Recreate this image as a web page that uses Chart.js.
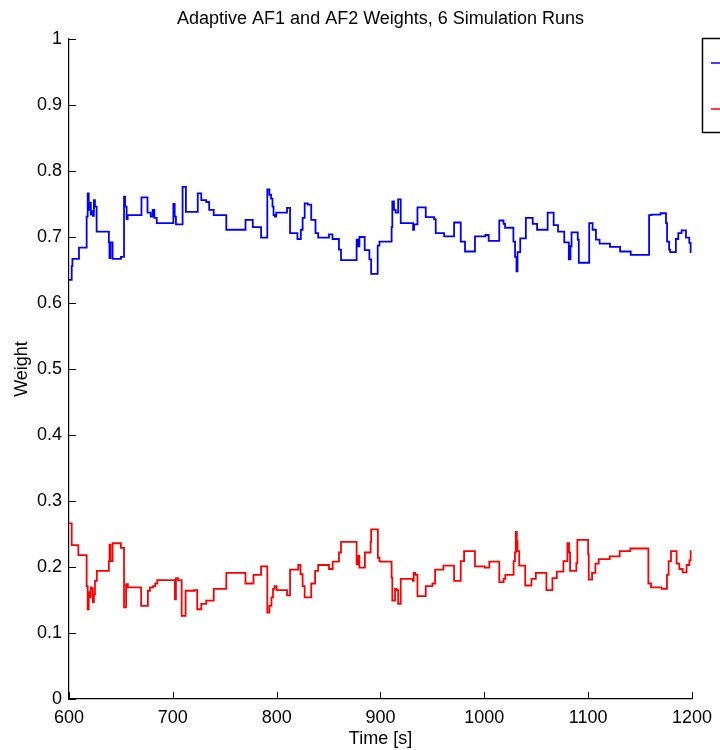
<!DOCTYPE html>
<html>
<head>
<meta charset="utf-8">
<script src="https://cdn.jsdelivr.net/npm/chart.js@4.4.0/dist/chart.umd.min.js"></script>
<style>
  html, body { margin: 0; padding: 0; background: #fff; }
  #wrap { width: 720px; height: 750px; }
</style>
</head>
<body>
<div id="wrap"><canvas id="weightChart" width="720" height="750"></canvas></div>
<script>
// AF1 weight: time at which the value changes, new value
const af1Times = [600, 602.6, 603.3, 609.6, 617, 618, 619, 620, 621, 622, 623, 624, 625, 626.6,
  638.4, 639, 640, 642, 650, 653, 654, 655.5, 656.5, 669.8, 675.6, 678.7, 680.6, 682.2, 684.5,
  700.5, 701.8, 703, 709.4, 712.6, 724, 727.4, 732.2, 735, 739.4, 751.5, 770, 777, 785,
  791, 793, 794.6, 796, 797, 798.3, 799.6, 810, 812.9, 820, 823.3, 825, 827, 830, 833.3, 837.4,
  840, 850.4, 853.8, 860, 862, 877, 878.5, 879.7, 884.8, 889.3, 891, 897.3, 899, 910.7, 911.4,
  913, 914.6, 917, 919.5, 931.4, 932.4, 935.6, 943.6, 951.6, 953.2, 961.3, 970.9, 977.3, 981.4,
  991, 1001, 1004.2, 1014.4, 1018.5, 1020, 1028, 1029.6, 1031, 1032, 1034.6, 1040, 1046.6,
  1050.8, 1061, 1066.8, 1071, 1077, 1081.4, 1083, 1084, 1090, 1091, 1101, 1104.3, 1107.5, 1111,
  1121, 1130.8, 1141, 1158.7, 1161, 1169.7, 1175, 1176, 1178, 1179, 1184.5, 1186.8, 1190,
  1194.2, 1197.4, 1198.7, 1199.5];
const af1Weights = [0.635, 0.656, 0.667, 0.684, 0.731, 0.766, 0.741, 0.752, 0.734, 0.739, 0.732, 0.756, 0.746, 0.708,
  0.692, 0.668, 0.692, 0.667, 0.670, 0.761, 0.746, 0.727, 0.733, 0.760, 0.737, 0.731, 0.741, 0.729, 0.721,
  0.750, 0.731, 0.719, 0.776, 0.738, 0.766, 0.756, 0.753, 0.741, 0.733, 0.711, 0.726, 0.715, 0.699,
  0.772, 0.764, 0.758, 0.746, 0.733, 0.731, 0.737, 0.744, 0.706, 0.697, 0.711, 0.729, 0.751, 0.749, 0.726, 0.706,
  0.699, 0.704, 0.697, 0.681, 0.665, 0.696, 0.686, 0.700, 0.680, 0.666, 0.644, 0.687, 0.693, 0.715, 0.754,
  0.741, 0.737, 0.757, 0.721, 0.711, 0.719, 0.745, 0.730, 0.727, 0.706, 0.701, 0.722, 0.693, 0.678,
  0.701, 0.703, 0.694, 0.725, 0.720, 0.714, 0.693, 0.670, 0.648, 0.677, 0.698, 0.729, 0.720,
  0.711, 0.737, 0.718, 0.708, 0.692, 0.666, 0.686, 0.707, 0.696, 0.661, 0.721, 0.711, 0.696, 0.690,
  0.685, 0.678, 0.673, 0.733, 0.734, 0.736, 0.721, 0.693, 0.681, 0.677, 0.697, 0.706, 0.710,
  0.699, 0.691, 0.677, 0.677];

// AF2 weight
const af2Times = [600, 602.6, 609, 617, 618, 619, 620, 621, 622, 623, 624, 625, 626.8,
  638.4, 639, 640, 642, 650, 653, 655, 656.7, 669.5, 676, 678, 681, 683, 685,
  702, 703, 705, 708.5, 712.3, 720.5, 723.5, 727.4, 732.2, 739.4, 751.5, 770, 777.7, 785,
  791, 793, 795, 796.5, 798, 800, 810, 812.9, 820.8, 823, 825, 827, 833.3, 837,
  840, 850.4, 854, 860, 862, 877, 878.5, 879.7, 885, 890.5, 891, 897.5, 899, 900,
  910.7, 911.4, 914, 915.5, 917, 919.5, 931, 932, 933.5, 935.6, 943.6, 950, 952.6, 960.6,
  970.9, 977.3, 980.5, 991, 1000.3, 1004.8, 1014.4, 1018.6, 1020.2, 1028.2, 1029.5, 1030.3,
  1031.3, 1032, 1033.6, 1039.4, 1045.4, 1049.6, 1059.8, 1065.6, 1069.8, 1076.2, 1080, 1081.6,
  1082.6, 1088.6, 1089.6, 1100, 1100.6, 1103.8, 1107, 1110.2, 1120.8, 1130.4, 1140.6, 1158,
  1160.6, 1170.8, 1175.9, 1177.5, 1179.8, 1185.2, 1187.8, 1191, 1194.8, 1197.5, 1198.7, 1199.5];
const af2Weights = [0.266, 0.233, 0.218, 0.171, 0.136, 0.162, 0.154, 0.169, 0.167, 0.147, 0.158, 0.179, 0.194,
  0.209, 0.234, 0.209, 0.236, 0.229, 0.139, 0.174, 0.169, 0.141, 0.164, 0.169, 0.171, 0.175, 0.180,
  0.151, 0.183, 0.180, 0.126, 0.164, 0.165, 0.136, 0.144, 0.149, 0.167, 0.191, 0.175, 0.188, 0.201,
  0.131, 0.141, 0.154, 0.167, 0.171, 0.165, 0.157, 0.196, 0.203, 0.189, 0.171, 0.154, 0.175, 0.194,
  0.203, 0.197, 0.208, 0.222, 0.238, 0.204, 0.217, 0.199, 0.222, 0.238, 0.257, 0.214, 0.209, 0.208,
  0.184, 0.149, 0.167, 0.165, 0.144, 0.182, 0.179, 0.191, 0.188, 0.156, 0.171, 0.175, 0.196, 0.202,
  0.179, 0.209, 0.224, 0.201, 0.199, 0.208, 0.177, 0.182, 0.188, 0.209, 0.222, 0.253,
  0.239, 0.224, 0.202, 0.172, 0.182, 0.191, 0.165, 0.183, 0.193, 0.209, 0.236, 0.222,
  0.194, 0.206, 0.241, 0.219, 0.181, 0.191, 0.205, 0.212, 0.216, 0.224, 0.228, 0.175,
  0.169, 0.167, 0.188, 0.209, 0.224, 0.205, 0.197, 0.192, 0.203, 0.210, 0.224, 0.224];

const xTicks = [600, 700, 800, 900, 1000, 1100, 1200];
const yTicks = [0, 0.1, 0.2, 0.3, 0.4, 0.5, 0.6, 0.7, 0.8, 0.9, 1];

const toPoints = (times, values) => times.map((t, i) => ({ x: t, y: values[i] }));

// ticks pointing into the plot, like the original figure
const inwardTicks = {
  id: 'inwardTicks',
  afterDatasetsDraw(chart) {
    const { ctx, chartArea, scales } = chart;
    ctx.save();
    ctx.strokeStyle = '#000';
    ctx.lineWidth = 1;
    ctx.beginPath();
    xTicks.forEach(v => {
      const x = Math.round(scales.x.getPixelForValue(v)) + 0.5;
      ctx.moveTo(x, chartArea.bottom);
      ctx.lineTo(x, chartArea.bottom - 7);
    });
    yTicks.forEach(v => {
      const y = Math.round(scales.y.getPixelForValue(v)) + 0.5;
      ctx.moveTo(chartArea.left, y);
      ctx.lineTo(chartArea.left + 7, y);
    });
    ctx.stroke();
    ctx.restore();
  }
};

// legend box, mostly cut off by the right edge
const sideLegend = {
  id: 'sideLegend',
  afterDraw(chart) {
    const { ctx, chartArea } = chart;
    const left = chartArea.right + 10;
    const top = chartArea.top - 1;
    ctx.save();
    ctx.strokeStyle = '#000';
    ctx.lineWidth = 1.5;
    ctx.strokeRect(left + 0.5, top + 0.5, 60, 94);
    chart.data.datasets.forEach((ds, i) => {
      const y = top + 25 + i * 46;
      ctx.strokeStyle = ds.borderColor;
      ctx.lineWidth = 1.5;
      ctx.beginPath();
      ctx.moveTo(left + 9, y);
      ctx.lineTo(left + 30, y);
      ctx.stroke();
    });
    ctx.restore();
  }
};

const fontFamily = '"Liberation Sans", Arial, Helvetica, sans-serif';

new Chart(document.getElementById('weightChart'), {
  type: 'line',
  data: {
    datasets: [
      {
        label: 'AF1',
        data: toPoints(af1Times, af1Weights),
        borderColor: '#0000ff',
        borderWidth: 1.8,
        stepped: true,
        pointRadius: 0,
        fill: false
      },
      {
        label: 'AF2',
        data: toPoints(af2Times, af2Weights),
        borderColor: '#ff0000',
        borderWidth: 1.8,
        stepped: true,
        pointRadius: 0,
        fill: false
      }
    ]
  },
  options: {
    responsive: false,
    animation: false,
    layout: { padding: { left: 0, right: 23, top: 0, bottom: 0 } },
    plugins: {
      legend: { display: false },
      tooltip: { enabled: false },
      title: {
        display: true,
        fullSize: false,
        text: 'Adaptive AF1 and AF2 Weights, 6 Simulation Runs',
        color: '#000',
        font: { family: fontFamily, size: 18, weight: 'normal' },
        padding: { top: 8, bottom: 9.4 }
      }
    },
    scales: {
      x: {
        type: 'linear',
        min: 600,
        max: 1200,
        afterFit(scale) { scale.height = 51; },
        afterBuildTicks(scale) { scale.ticks = xTicks.map(v => ({ value: v })); },
        grid: { display: false, drawTicks: false },
        border: { display: true, color: '#000', width: 1.2 },
        ticks: {
          color: '#000',
          padding: 8,
          maxRotation: 0,
          font: { family: fontFamily, size: 18 },
          callback: v => String(v)
        },
        title: {
          display: true,
          text: 'Time [s]',
          color: '#000',
          font: { family: fontFamily, size: 18 },
          padding: { top: 0, bottom: 0 }
        }
      },
      y: {
        min: 0,
        max: 1,
        afterFit(scale) { scale.width = 69; },
        afterBuildTicks(scale) { scale.ticks = yTicks.map(v => ({ value: v })); },
        grid: { display: false, drawTicks: false },
        border: { display: true, color: '#000', width: 1.2 },
        ticks: {
          color: '#000',
          padding: 7,
          font: { family: fontFamily, size: 18 },
          callback: v => String(Math.round(v * 10) / 10)
        },
        title: {
          display: true,
          text: 'Weight',
          color: '#000',
          font: { family: fontFamily, size: 18 },
          padding: { top: 11, bottom: 0 }
        }
      }
    }
  },
  plugins: [inwardTicks, sideLegend]
});
</script>
</body>
</html>
